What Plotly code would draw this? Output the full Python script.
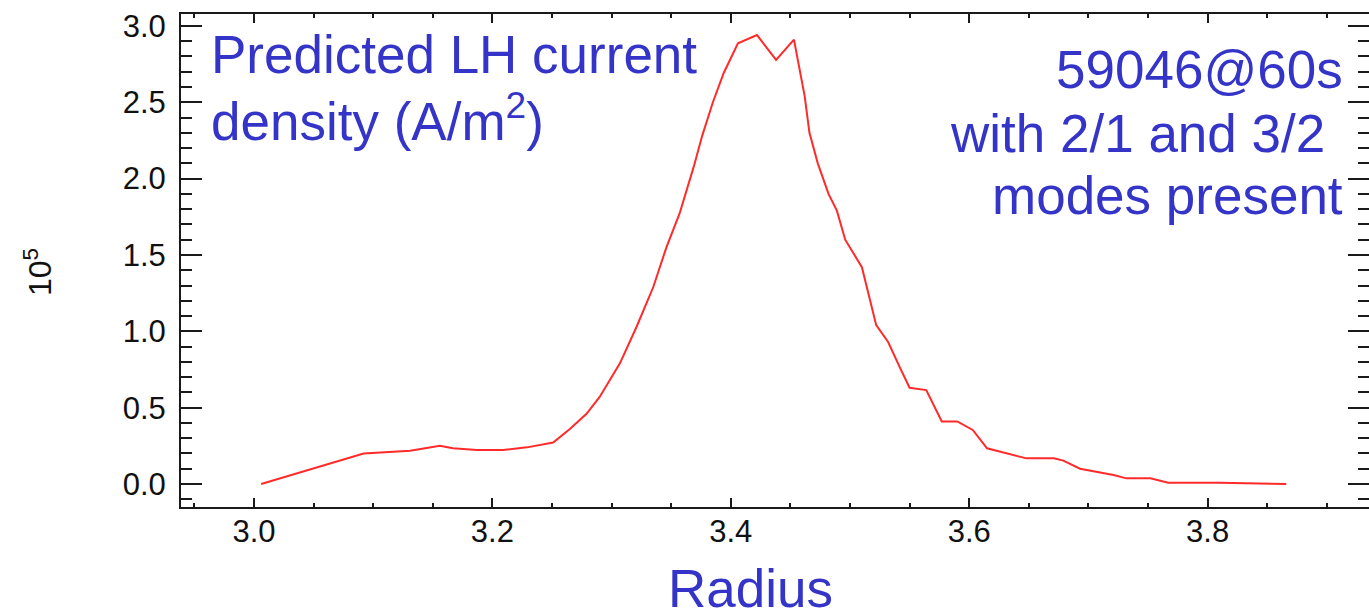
import plotly.graph_objects as go

# Radius values and LH current density (units of 1e5 A/m^2)
radius = [3.006, 3.05, 3.092, 3.131, 3.156, 3.167, 3.187, 3.209, 3.229, 3.251,
          3.265, 3.279, 3.290, 3.307, 3.321, 3.335, 3.346, 3.357, 3.369, 3.376,
          3.385, 3.394, 3.406, 3.422, 3.438, 3.453, 3.458, 3.462, 3.466, 3.473,
          3.482, 3.489, 3.496, 3.510, 3.522, 3.532, 3.542, 3.550, 3.564, 3.577,
          3.590, 3.603, 3.615, 3.634, 3.648, 3.671, 3.679, 3.693, 3.721, 3.732,
          3.752, 3.767, 3.810, 3.866]
density = [0.0, 0.10, 0.20, 0.218, 0.25, 0.234, 0.222, 0.222, 0.24, 0.272,
           0.36, 0.46, 0.57, 0.79, 1.03, 1.29, 1.55, 1.77, 2.08, 2.28,
           2.50, 2.69, 2.886, 2.94, 2.777, 2.91, 2.71, 2.54, 2.30, 2.10,
           1.90, 1.79, 1.60, 1.42, 1.04, 0.93, 0.76, 0.63, 0.615, 0.41,
           0.41, 0.354, 0.234, 0.196, 0.168, 0.168, 0.153, 0.10, 0.059, 0.037,
           0.037, 0.009, 0.009, 0.0]

x_ticks = [3.0, 3.2, 3.4, 3.6, 3.8]
y_ticks = [0.0, 0.5, 1.0, 1.5, 2.0, 2.5, 3.0]

W, H = 1369, 613
ML, MR, MT, MB = 181, 0, 14, 106
PW, PH = W - ML - MR, H - MT - MB


def px(x):
    return (x - ML) / PW


def py(y):
    return (H - MB - y) / PH


blue = "#3434C8"
fig = go.Figure()
fig.add_trace(go.Scatter(x=radius, y=density, mode="lines",
                         line=dict(color="#FF2A2A", width=2), showlegend=False))

axis_common = dict(showline=True, linecolor="#1a1a1a", linewidth=2, mirror="allticks",
                   ticks="inside", tickcolor="#1a1a1a", tickwidth=2,
                   showgrid=False, zeroline=False, automargin=False,
                   tickfont=dict(family="Liberation Sans, Arial", size=31, color="#111"))

fig.update_xaxes(range=[2.9388, 3.9354], tickvals=x_ticks,
                 ticktext=[f"{v:.1f}" for v in x_ticks], ticklen=9,
                 minor=dict(dtick=0.05, tick0=3.0, ticks="inside", ticklen=4,
                            tickwidth=2, tickcolor="#1a1a1a"),
                 ticklabelstandoff=-4, **axis_common)
fig.update_yaxes(range=[-0.1506, 3.078], tickvals=y_ticks,
                 ticktext=[f"{v:.1f}" for v in y_ticks], ticklen=21,
                 minor=dict(dtick=0.1, tick0=0.0, ticks="inside", ticklen=11,
                            tickwidth=2, tickcolor="#1a1a1a"),
                 ticklabelstandoff=7, **axis_common)

font_big = dict(family="Liberation Sans, Arial", size=53, color=blue)
ann = []
ann.append(dict(text="Predicted LH current", x=px(209), y=py(54), xanchor="left", yanchor="middle"))
ann.append(dict(text="density (A/m<sup>2</sup>)", x=px(209), y=py(117), xanchor="left", yanchor="middle"))
ann.append(dict(text="59046@60s", x=px(1345), y=py(69), xanchor="right", yanchor="middle"))
ann.append(dict(text="with 2/1 and 3/2", x=px(1327), y=py(133), xanchor="right", yanchor="middle"))
ann.append(dict(text="modes present", x=px(1345), y=py(195), xanchor="right", yanchor="middle"))
ann.append(dict(text="Radius", x=px(750), y=py(588), xanchor="center", yanchor="middle"))
for a in ann:
    a.update(xref="paper", yref="paper", showarrow=False, font=font_big)
ann.append(dict(text="10<sup>5</sup>", x=px(38), y=py(272), xref="paper", yref="paper",
                showarrow=False, textangle=-90, xanchor="center", yanchor="middle",
                font=dict(family="Liberation Sans, Arial", size=32, color="#111")))

fig.update_layout(width=W, height=H, margin=dict(l=ML, r=MR, t=MT, b=MB),
                  paper_bgcolor="white", plot_bgcolor="white", annotations=ann)

fig.write_html("out.html")
